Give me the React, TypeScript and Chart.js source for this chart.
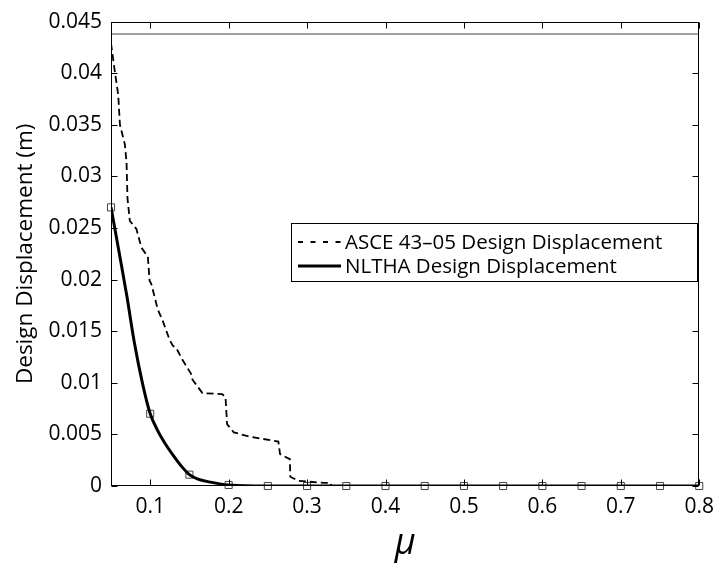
import React, { useEffect, useRef } from "react";
import { Chart, registerables } from "chart.js";

Chart.register(...registerables);

// ---- data ----
const muNltha = [0.05, 0.06, 0.07, 0.08, 0.09, 0.1, 0.11, 0.12, 0.13, 0.14, 0.15, 0.16, 0.175, 0.2, 0.25, 0.3, 0.35, 0.4, 0.45, 0.5, 0.55, 0.6, 0.65, 0.7, 0.75, 0.8];
const dispNltha = [0.027, 0.0228, 0.0185, 0.0138, 0.0100, 0.0070, 0.0053, 0.0040, 0.0029, 0.0019, 0.0011, 0.0007, 0.0004, 0.0001, 0, 0, 0, 0, 0, 0, 0, 0, 0, 0, 0, 0];

const muMarkers = [0.05, 0.1, 0.15, 0.2, 0.25, 0.3, 0.35, 0.4, 0.45, 0.5, 0.55, 0.6, 0.65, 0.7, 0.75, 0.8];
const dispMarkers = [0.027, 0.007, 0.0011, 0.0001, 0, 0, 0, 0, 0, 0, 0, 0, 0, 0, 0, 0];

const muAsce = [0.05, 0.055, 0.0592, 0.0614, 0.0677, 0.0698, 0.071, 0.074, 0.0824, 0.0888, 0.097, 0.0992, 0.1013, 0.1097, 0.116, 0.1245, 0.1287, 0.133, 0.1413, 0.1519, 0.1539, 0.1666, 0.1918, 0.196, 0.198, 0.2066, 0.2255, 0.2634, 0.2655, 0.278, 0.2786, 0.2886, 0.3223, 0.33, 0.331, 0.8];
const dispAsce = [0.0429, 0.0401, 0.0379, 0.035, 0.0331, 0.0314, 0.0279, 0.0257, 0.0249, 0.0231, 0.0222, 0.0199, 0.0196, 0.0171, 0.016, 0.0142, 0.0136, 0.0134, 0.0122, 0.0109, 0.0103, 0.009, 0.0089, 0.0086, 0.006, 0.0052, 0.0048, 0.0043, 0.0031, 0.0026, 0.0009, 0.0005, 0.0003, 0.0003, 0, 0];

const muLimit = [0.05, 0.8];
const dispLimit = [0.0438, 0.0438];

const xTickValues = [0.1, 0.2, 0.3, 0.4, 0.5, 0.6, 0.7, 0.8];
const xTickLabels = ["0.1", "0.2", "0.3", "0.4", "0.5", "0.6", "0.7", "0.8"];
const yTickValues = [0, 0.005, 0.01, 0.015, 0.02, 0.025, 0.03, 0.035, 0.04, 0.045];
const yTickLabels = ["0", "0.005", "0.01", "0.015", "0.02", "0.025", "0.03", "0.035", "0.04", "0.045"];

const seriesLabels = ["ASCE 43\u201305 Design Displacement", "NLTHA Design Displacement"];

const FONT = "'Open Sans', 'Noto Sans', sans-serif";

const toXY = (xs: number[], ys: number[]) => xs.map((x, i) => ({ x, y: ys[i] }));

const framePlugin = {
  id: "framePlugin",
  afterDatasetsDraw(chart: any) {
    const { ctx, chartArea, scales } = chart;
    const { left, right, top, bottom } = chartArea;
    ctx.save();
    ctx.strokeStyle = "#000";
    ctx.lineWidth = 1;
    const L = Math.round(left) + 0.5, R = Math.round(right) - 0.5, T = Math.round(top) + 0.5, B = Math.round(bottom) - 0.5;
    ctx.strokeRect(L, T, R - L, B - T);
    const tl = 6;
    ctx.beginPath();
    scales.x.ticks.forEach((t: any) => {
      const px = Math.round(scales.x.getPixelForValue(t.value)) + 0.5;
      ctx.moveTo(px, B); ctx.lineTo(px, B - tl);
      ctx.moveTo(px, T); ctx.lineTo(px, T + tl);
    });
    scales.y.ticks.forEach((t: any) => {
      const py = Math.round(scales.y.getPixelForValue(t.value)) + 0.5;
      ctx.moveTo(L, py); ctx.lineTo(L + tl, py);
      ctx.moveTo(R, py); ctx.lineTo(R - tl, py);
    });
    ctx.stroke();
    ctx.restore();
  },
  afterDraw(chart: any) {
    const { ctx } = chart;
    const ds = chart.data.datasets;
    ctx.save();
    const bx = 291.5, by = 223.5, bw = 406, bh = 58;
    ctx.fillStyle = "#fff";
    ctx.fillRect(bx, by, bw, bh);
    ctx.strokeStyle = "#000";
    ctx.lineWidth = 1;
    ctx.strokeRect(bx, by, bw, bh);
    ctx.font = `20.5px ${FONT}`;
    ctx.textBaseline = "middle";
    ctx.fillStyle = "#000";
    [0, 1].forEach((i) => {
      const d = ds[i];
      const cy = 242 + i * 24;
      ctx.beginPath();
      ctx.lineWidth = d.borderWidth;
      ctx.strokeStyle = d.borderColor;
      ctx.setLineDash(i === 0 ? [5, 7.5] : []);
      ctx.moveTo(298, cy);
      ctx.lineTo(341, cy);
      ctx.stroke();
      ctx.setLineDash([]);
      ctx.fillText(d.label, 345, cy + 1);
    });
    ctx.restore();
  },
};

export default function App() {
  const ref = useRef<HTMLCanvasElement | null>(null);
  useEffect(() => {
    if (!ref.current) return;
    const chart = new Chart(ref.current, {
      type: "line",
      data: {
        datasets: [
          {
            label: seriesLabels[0],
            data: toXY(muAsce, dispAsce),
            borderColor: "#000",
            borderWidth: 1.8,
            borderDash: [7, 4],
            pointRadius: 0,
            tension: 0,
            fill: false,
          },
          {
            label: seriesLabels[1],
            data: toXY(muNltha, dispNltha),
            borderColor: "#000",
            borderWidth: 3,
            pointRadius: 0,
            cubicInterpolationMode: "monotone",
            fill: false,
          },
          {
            label: "markers",
            data: toXY(muMarkers, dispMarkers),
            showLine: false,
            pointStyle: "rect",
            pointRadius: 5,
            pointBorderColor: "#444",
            pointBackgroundColor: "rgba(0,0,0,0)",
            pointBorderWidth: 1,
            borderColor: "#444",
            clip: false,
          },
          {
            label: "limit",
            data: toXY(muLimit, dispLimit),
            borderColor: "#808080",
            borderWidth: 1.4,
            pointRadius: 0,
            fill: false,
          },
        ] as any,
      },
      options: {
        responsive: false,
        animation: false,
        layout: { padding: { top: 19, right: 17, left: 0, bottom: 0 } },
        plugins: { legend: { display: false }, tooltip: { enabled: false } },
        scales: {
          x: {
            type: "linear",
            min: 0.05,
            max: 0.8,
            grid: { display: false, drawTicks: false },
            border: { display: false },
            afterBuildTicks: (s: any) => { s.ticks = xTickValues.map((v) => ({ value: v })); },
            afterFit: (s: any) => { s.height = 79; },
            ticks: {
              color: "#000",
              padding: 8,
              maxRotation: 0,
              font: { family: FONT, size: 21 },
              callback: (v: any) => { const i = xTickValues.findIndex((t) => Math.abs(t - Number(v)) < 1e-9); return i >= 0 ? xTickLabels[i] : ""; },
            },
            title: {
              display: true,
              text: "\u03bc",
              color: "#000",
              font: { family: FONT, size: 36, style: "italic", lineHeight: 1 },
              padding: { top: 0, bottom: 3 },
            },
          },
          y: {
            type: "linear",
            min: 0,
            max: 0.045,
            grid: { display: false, drawTicks: false },
            border: { display: false },
            afterBuildTicks: (s: any) => { s.ticks = yTickValues.map((v) => ({ value: v })); },
            afterFit: (s: any) => { s.width = 111; },
            ticks: {
              color: "#000",
              padding: 9,
              font: { family: FONT, size: 21 },
              callback: (v: any) => { const i = yTickValues.findIndex((t) => Math.abs(t - Number(v)) < 1e-9); return i >= 0 ? yTickLabels[i] : ""; },
            },
            title: {
              display: true,
              text: "Design Displacement (m)",
              color: "#000",
              font: { family: FONT, size: 22.5, lineHeight: 1.2 },
              padding: { top: 12, bottom: 0 },
            },
          },
        },
      } as any,
      plugins: [framePlugin],
    });
    return () => chart.destroy();
  }, []);
  return (
    <div style={{ position: "absolute", left: 0, top: 0, width: 722, height: 565, background: "#fff" }}>
      <canvas ref={ref} width={722} height={565} style={{ display: "block", width: 722, height: 565 }} />
    </div>
  );
}
